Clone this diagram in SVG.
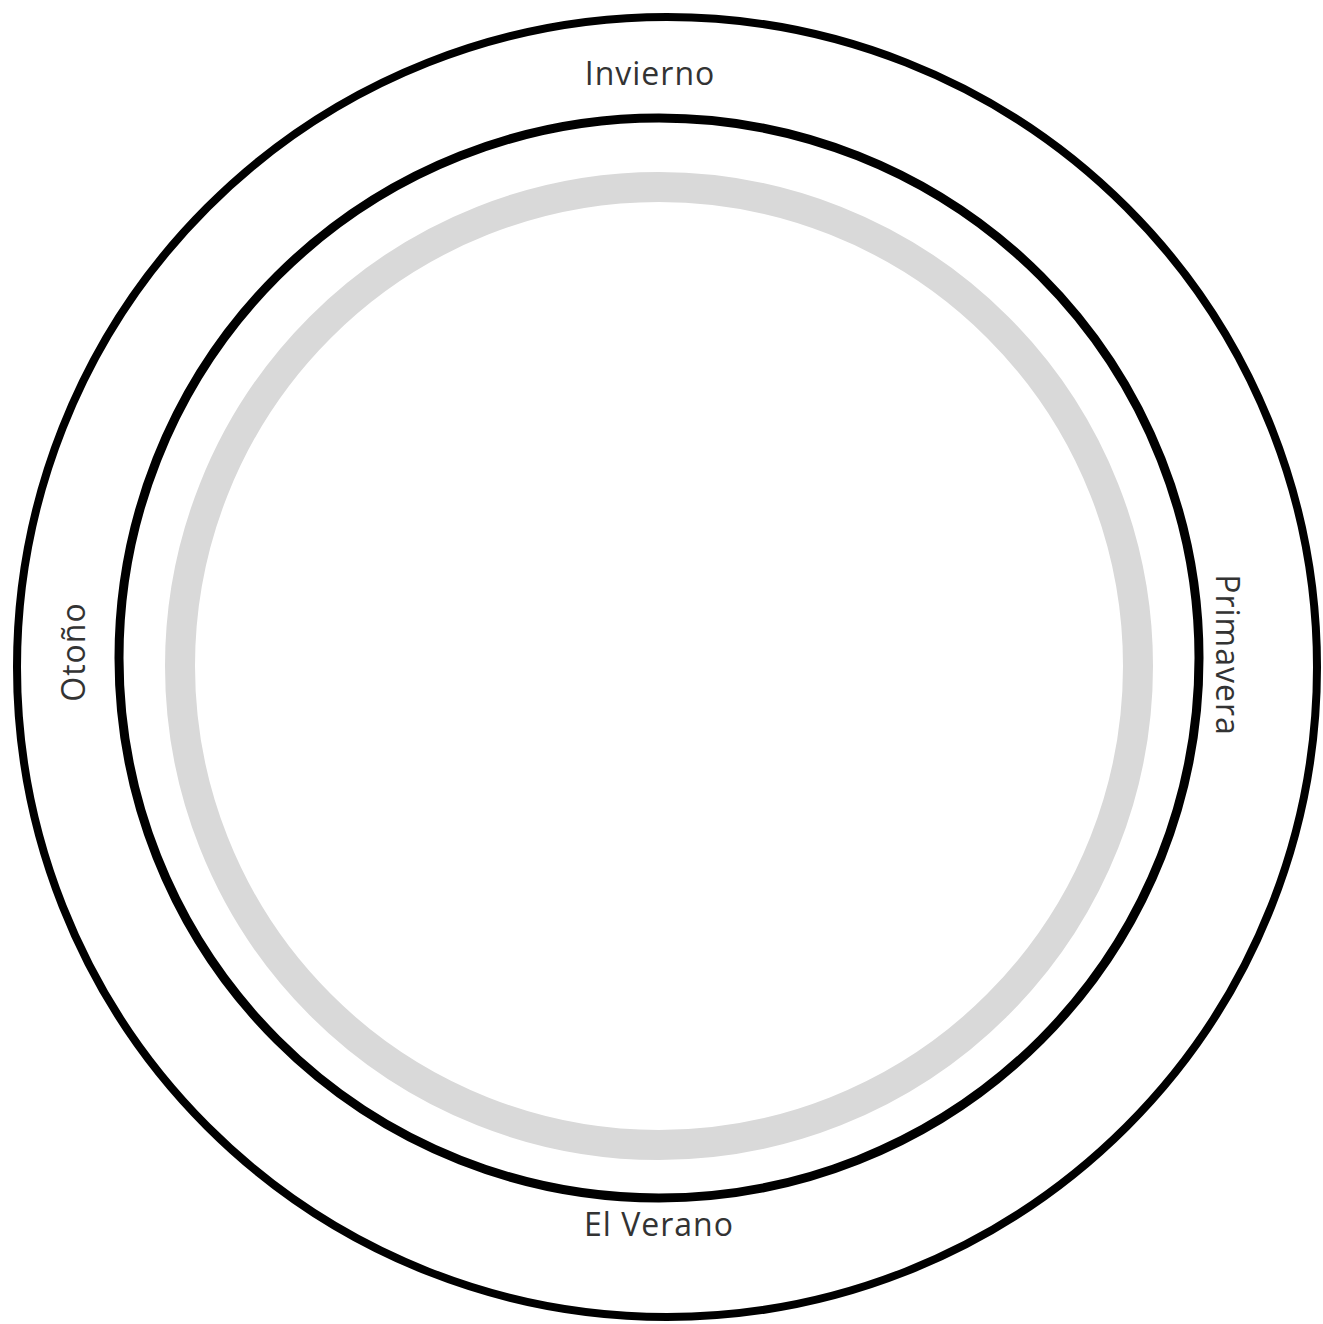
<svg xmlns="http://www.w3.org/2000/svg" width="1323" height="1324" viewBox="0 0 1323 1324">
<style>
.lbl{font-family:"Open Sans","Noto Sans",sans-serif;font-size:32px;fill:#333;text-anchor:middle;letter-spacing:1px}
.ring{fill:none;stroke:#000}
</style>
<rect width="1323" height="1324" fill="#fff"/>
<g id="outer"><circle class="ring" cx="667" cy="667" r="650" stroke-width="8"/></g>
<g id="inner"><circle class="ring" cx="659" cy="658" r="540" stroke-width="9"/></g>
<g id="gray"><circle cx="659" cy="666" r="479" fill="none" stroke="#d9d9d9" stroke-width="30"/></g>
<g id="connectors"></g>
<g id="invierno"><text class="lbl" x="650" y="85">Invierno</text></g>
<g id="verano"><text class="lbl" x="659" y="1236">El Verano</text></g>
<g id="otono"><text class="lbl" transform="translate(85,652) rotate(-90)">Otoño</text></g>
<g id="primavera"><text class="lbl" transform="translate(1216,655) rotate(90)">Primavera</text></g>
</svg>
